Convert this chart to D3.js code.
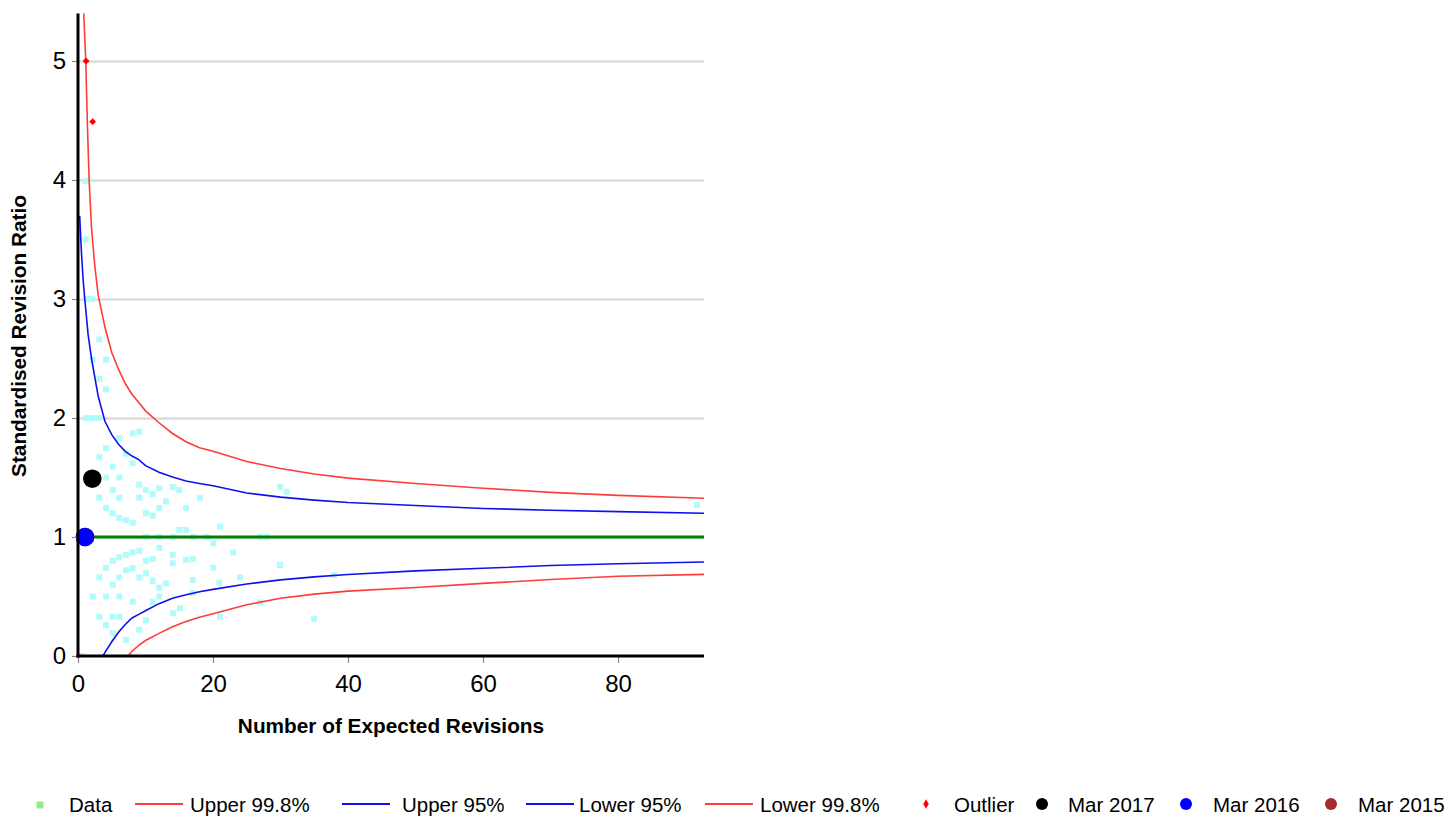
<!DOCTYPE html>
<html>
<head>
<meta charset="utf-8">
<script src="https://cdn.jsdelivr.net/npm/d3@7/dist/d3.min.js"></script>
<style>
  html, body { margin: 0; padding: 0; background: #ffffff; }
  svg { display: block; font-family: "Liberation Sans", Arial, sans-serif; }
</style>
</head>
<body>
<svg id="chart" width="1450" height="816"></svg>
<script>
// Observed points: expected revisions (x) and standardised revision ratio (y)
const dataExpected = [
  1.14, 1.14, 1.19, 2.07, 3.16, 2.18, 4.15, 3.16, 4.15, 1.2, 2.1, 3.1,
  6.12, 8.10, 9.08, 4.15, 7.11, 3.16, 8.10, 5.14, 4.15, 6.12, 9.08, 10.07,
  11.07, 12.04, 14.03, 15.0, 5.14, 9.08, 3.16, 6.12, 13.04, 18.07, 4.15, 12.04,
  16.0, 5.14, 6.12, 7.11, 8.10, 10.07, 11.07, 15.0, 16.0, 21.04, 29.93, 30.92,
  91.7, 17.08, 19.07, 26.96, 27.96, 10.07, 12.04, 14.03,
  9.08, 8.10, 7.11, 6.12, 5.14, 4.15, 3.16, 10.07, 11.07, 12.04, 8.10, 7.11,
  6.12, 5.14, 9.08, 14.03, 14.03, 16.0, 17.0, 13.04, 12.04, 11.07, 10.07, 12.04,
  11.07, 2.18, 4.15, 6.12, 8.10, 3.16, 5.14, 6.12, 4.15, 5.14, 7.11, 9.08,
  10.07, 14.12, 15.11, 17.0, 17.0, 20.04, 20.04, 20.93, 21.04, 23.0, 24.0, 26.96,
  29.93, 34.96, 37.93, 0.55
];
const dataRatio = [
  3.99, 3.50, 3.00, 3.00, 2.66, 2.49, 2.49, 2.33, 2.24, 2.0, 2.0, 2.0,
  1.83, 1.87, 1.885, 1.745, 1.70, 1.67, 1.62, 1.59, 1.50, 1.50, 1.44, 1.395,
  1.36, 1.41, 1.42, 1.395, 1.395, 1.33, 1.33, 1.33, 1.30, 1.33, 1.245, 1.245,
  1.245, 1.20, 1.16, 1.14, 1.12, 1.20, 1.18, 1.06, 1.06, 1.087, 1.42, 1.38,
  1.27, 1.0, 1.0, 1.0, 1.0, 1.0, 1.0, 1.0,
  0.885, 0.87, 0.85, 0.83, 0.80, 0.74, 0.66, 0.80, 0.815, 0.91, 0.74, 0.72,
  0.66, 0.60, 0.66, 0.85, 0.78, 0.81, 0.815, 0.61, 0.575, 0.63, 0.695, 0.50,
  0.455, 0.50, 0.50, 0.50, 0.455, 0.33, 0.33, 0.33, 0.26, 0.19, 0.135, 0.22,
  0.30, 0.36, 0.40, 0.64, 0.53, 0.947, 0.742, 0.616, 0.33, 0.87, 0.66, 0.45,
  0.765, 0.31, 0.68, 0.0
];

// Control limits, sampled along expected revisions
const upper998X = [0.7, 1.0, 1.15, 1.4, 1.65, 2, 2.5, 3, 4, 5, 6, 7, 8, 9, 10, 12, 14, 16, 18, 20, 25, 30, 35, 40, 50, 60, 70, 80, 92.74];
const upper998Y = [5.6, 5.2, 5.0, 4.45, 4.0, 3.6, 3.27, 3.03, 2.76, 2.55, 2.41, 2.29, 2.2, 2.13, 2.06, 1.96, 1.87, 1.80, 1.75, 1.72, 1.635, 1.575, 1.53, 1.495, 1.45, 1.41, 1.375, 1.35, 1.325];

const upper95X = [0.25, 0.5, 0.75, 1, 1.5, 2, 2.5, 3, 4, 5, 6, 7, 8, 9, 10, 12, 14, 16, 18, 20, 25, 30, 35, 40, 50, 60, 70, 80, 92.74];
const upper95Y = [3.7, 3.4, 3.17, 3.0, 2.7, 2.5, 2.34, 2.18, 1.97, 1.86, 1.78, 1.72, 1.68, 1.65, 1.60, 1.545, 1.505, 1.47, 1.45, 1.43, 1.37, 1.335, 1.31, 1.29, 1.265, 1.24, 1.225, 1.213, 1.20];

const lower95X = [0, 3.7, 4, 5, 6, 7, 8, 9, 10, 12, 14, 16, 18, 20, 25, 30, 35, 40, 50, 60, 70, 80, 92.74];
const lower95Y = [0, 0, 0.03, 0.12, 0.2, 0.265, 0.32, 0.35, 0.38, 0.44, 0.485, 0.515, 0.54, 0.56, 0.605, 0.64, 0.665, 0.685, 0.715, 0.737, 0.76, 0.775, 0.79];

const lower998X = [0, 7.4, 8, 9, 10, 12, 14, 16, 18, 20, 25, 30, 35, 40, 50, 60, 70, 80, 92.74];
const lower998Y = [0, 0, 0.04, 0.09, 0.13, 0.19, 0.245, 0.29, 0.325, 0.355, 0.43, 0.485, 0.52, 0.545, 0.575, 0.61, 0.643, 0.67, 0.686];

// Outliers and highlighted periods
const outlierX = [1.19, 2.17];
const outlierY = [5.0, 4.49];
const periodLabels = ["Mar 2015", "Mar 2016", "Mar 2017"];
const periodX = [1.04, 1.04, 2.12];
const periodY = [1.0, 1.0, 1.49];

const xTicks = [0, 20, 40, 60, 80];
const yTicks = [0, 1, 2, 3, 4, 5];
const targetRatio = 1;

const legendLabels = ["Data", "Upper 99.8%", "Upper 95%", "Lower 95%", "Lower 99.8%", "Outlier", "Mar 2017", "Mar 2016", "Mar 2015"];

// ---- layout ----
const svg = d3.select("#chart");
const plotLeft = 78, plotRight = 704, plotTop = 13.4, plotBottom = 656;

const x = d3.scaleLinear().domain([0, 92.74]).range([plotLeft, plotRight]);
const y = d3.scaleLinear().domain([0, 5.4]).range([plotBottom, plotTop]);

const colors = {
  data: "#b2fbfb",
  dataKey: "#90ee90",
  red: "#ff3b3b",
  blue: "#1010ee",
  green: "#008000",
  grid: "#dcdcdc",
  periods: ["#a52a2a", "#0000ff", "#000000"]
};

svg.append("defs").append("clipPath").attr("id", "plotClip")
  .append("rect").attr("x", plotLeft).attr("y", plotTop)
  .attr("width", plotRight - plotLeft).attr("height", plotBottom - plotTop + 1);

// gridlines
svg.append("g")
  .attr("transform", `translate(${plotLeft},0)`)
  .call(d3.axisLeft(y).tickValues(yTicks.filter(v => v > 0)).tickSize(-(plotRight - plotLeft)).tickFormat(""))
  .call(g => g.select(".domain").remove())
  .call(g => g.selectAll(".tick line").attr("stroke", colors.grid).attr("stroke-width", 2.5));

const plot = svg.append("g").attr("clip-path", "url(#plotClip)");

// data squares
const pts = dataExpected.map((e, i) => ({ e, r: dataRatio[i] }));
plot.append("g").selectAll("rect").data(pts).join("rect")
  .attr("x", d => x(d.e) - 3)
  .attr("y", d => y(d.r) - 3)
  .attr("width", 6).attr("height", 6)
  .attr("fill", colors.data);

// control limit curves
const line = d3.line().x(d => x(d[0])).y(d => y(d[1]));
const curves = [
  [upper998X, upper998Y, colors.red],
  [upper95X, upper95Y, colors.blue],
  [lower95X, lower95Y, colors.blue],
  [lower998X, lower998Y, colors.red]
];
curves.forEach(([xs, ys, c]) => {
  plot.append("path")
    .datum(xs.map((v, i) => [v, ys[i]]))
    .attr("d", line)
    .attr("fill", "none")
    .attr("stroke", c)
    .attr("stroke-width", 1.6);
});

// target ratio line
plot.append("line")
  .attr("x1", plotLeft).attr("x2", plotRight)
  .attr("y1", y(targetRatio)).attr("y2", y(targetRatio))
  .attr("stroke", colors.green).attr("stroke-width", 3);

// outliers
plot.append("g").selectAll("path").data(outlierX.map((v, i) => [v, outlierY[i]])).join("path")
  .attr("transform", d => `translate(${x(d[0])},${y(d[1])})`)
  .attr("d", d3.symbol(d3.symbolDiamond2, 30))
  .attr("fill", "#ff0000");

// highlighted periods
svg.append("g").selectAll("circle")
  .data(periodLabels.map((l, i) => ({ l, e: periodX[i], r: periodY[i], c: colors.periods[i] })))
  .join("circle")
  .attr("cx", d => x(d.e)).attr("cy", d => y(d.r))
  .attr("r", 9.3)
  .attr("fill", d => d.c);

// axes
const yAxis = svg.append("g")
  .attr("transform", `translate(${plotLeft},0)`)
  .call(d3.axisLeft(y).tickValues(yTicks).tickSize(6).tickPadding(6).tickFormat(d3.format("d")));
yAxis.select(".domain").remove();
yAxis.selectAll(".tick line").attr("stroke", "#888888").attr("stroke-width", 1.2);
yAxis.selectAll(".tick text").attr("font-size", 24).attr("fill", "#000")
  .attr("font-family", "Liberation Sans, Arial, sans-serif");

const xAxis = svg.append("g")
  .attr("transform", `translate(0,${plotBottom})`)
  .call(d3.axisBottom(x).tickValues(xTicks).tickSize(7).tickPadding(12).tickFormat(d3.format("d")));
xAxis.select(".domain").remove();
xAxis.selectAll(".tick line").attr("stroke", "#888888").attr("stroke-width", 1.2);
xAxis.selectAll(".tick text").attr("font-size", 24).attr("fill", "#000")
  .attr("font-family", "Liberation Sans, Arial, sans-serif");

svg.append("line").attr("x1", plotLeft).attr("x2", plotLeft).attr("y1", plotTop).attr("y2", plotBottom + 1.5)
  .attr("stroke", "#000").attr("stroke-width", 3);
svg.append("line").attr("x1", plotLeft - 1.5).attr("x2", plotRight).attr("y1", plotBottom).attr("y2", plotBottom)
  .attr("stroke", "#000").attr("stroke-width", 3);

// axis titles
svg.append("text")
  .attr("x", 391).attr("y", 733)
  .attr("text-anchor", "middle")
  .attr("font-size", 20.8).attr("font-weight", "bold")
  .text("Number of Expected Revisions");
svg.append("text")
  .attr("transform", `translate(26,336) rotate(-90)`)
  .attr("text-anchor", "middle")
  .attr("font-size", 20.8).attr("font-weight", "bold")
  .text("Standardised Revision Ratio");

// legend
const legendY = 804;
const keyX = [40, 135, 342, 526, 705, 926, 1042, 1186, 1331];
const textX = [69, 190, 402, 579, 760, 954, 1068, 1213, 1358];
const legend = svg.append("g");
legendLabels.forEach((label, i) => {
  const kx = keyX[i];
  if (i === 0) {
    legend.append("rect").attr("x", kx - 3.5).attr("y", legendY - 2.5)
      .attr("width", 7).attr("height", 7).attr("fill", colors.dataKey);
  } else if (i <= 4) {
    const c = (i === 1 || i === 4) ? colors.red : colors.blue;
    legend.append("line").attr("x1", kx).attr("x2", kx + 48).attr("y1", legendY).attr("y2", legendY)
      .attr("stroke", c).attr("stroke-width", 2);
  } else if (i === 5) {
    legend.append("path").attr("transform", `translate(${kx},${legendY})`)
      .attr("d", d3.symbol(d3.symbolDiamond, 26)).attr("fill", "#ff0000");
  } else {
    const c = colors.periods[2 - (i - 6)];
    legend.append("circle").attr("cx", kx).attr("cy", legendY).attr("r", 6).attr("fill", c);
  }
  legend.append("text").attr("x", textX[i]).attr("y", legendY + 7.5)
    .attr("font-size", 20.5).attr("fill", "#000").text(label);
});
</script>
</body>
</html>
